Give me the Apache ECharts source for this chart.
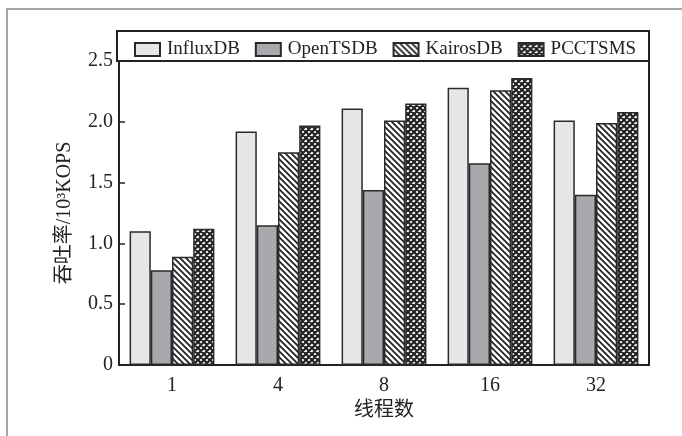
<!DOCTYPE html>
<html>
<head>
<meta charset="utf-8">
<script src="https://cdn.jsdelivr.net/npm/echarts@6/dist/echarts.min.js"></script>
<style>
html,body{margin:0;padding:0;background:#fff;}
#c{width:682px;height:436px;}
</style>
</head>
<body>
<div id="c"></div>
<script>
var categories = ['1', '4', '8', '16', '32'];
var seriesNames = ['InfluxDB', 'OpenTSDB', 'KairosDB', 'PCCTSMS'];
var influxDB = [1.10, 1.92, 2.11, 2.28, 2.01];
var openTSDB = [0.78, 1.15, 1.44, 1.66, 1.40];
var kairosDB = [0.89, 1.75, 2.01, 2.26, 1.99];
var pcctsms  = [1.12, 1.97, 2.15, 2.36, 2.08];
var yTicks = [0, 0.5, 1.0, 1.5, 2.0, 2.5];

function stripePattern() {
  var s = 6, c = document.createElement('canvas');
  c.width = s; c.height = s;
  var g = c.getContext('2d');
  g.fillStyle = '#fff'; g.fillRect(0, 0, s, s);
  g.strokeStyle = '#222'; g.lineWidth = 1.8;
  g.beginPath();
  g.moveTo(-1, -1); g.lineTo(s + 1, s + 1);
  g.moveTo(-1, s - 1); g.lineTo(1, s + 1);
  g.moveTo(s - 1, -1); g.lineTo(s + 1, 1);
  g.stroke();
  return c;
}
function crossPattern() {
  var s = 6, c = document.createElement('canvas');
  c.width = s; c.height = s;
  var g = c.getContext('2d');
  g.fillStyle = '#fff'; g.fillRect(0, 0, s, s);
  g.strokeStyle = '#222'; g.lineWidth = 2.2;
  g.beginPath();
  g.moveTo(-1, -1); g.lineTo(s + 1, s + 1);
  g.moveTo(-1, s - 1); g.lineTo(1, s + 1);
  g.moveTo(s - 1, -1); g.lineTo(s + 1, 1);
  g.moveTo(-1, s + 1); g.lineTo(s + 1, -1);
  g.moveTo(-1, 1); g.lineTo(1, -1);
  g.moveTo(s - 1, s + 1); g.lineTo(s + 1, s - 1);
  g.stroke();
  return c;
}

var fills = [
  '#e6e7e8',
  '#a7a9ac',
  {image: stripePattern(), repeat: 'repeat'},
  {image: crossPattern(), repeat: 'repeat'}
];
var values = [influxDB, openTSDB, kairosDB, pcctsms];

var font = '"Liberation Serif", "Times New Roman", "Noto Sans CJK SC", serif';

var series = seriesNames.map(function (n, i) {
  return {
    name: n,
    type: 'bar',
    data: values[i],
    barGap: '0%',
    barCategoryGap: '20%',
    itemStyle: {color: fills[i], borderColor: '#2a2a2a', borderWidth: 1.5},
    emphasis: {disabled: true}
  };
});

var chart = echarts.init(document.getElementById('c'), null, {renderer: 'canvas'});
chart.setOption({
  animation: false,
  backgroundColor: '#fff',
  graphic: [
    {type: 'rect', shape: {x: 7, y: 9, width: 720, height: 460}, style: {fill: 'none', stroke: '#a6a6a6', lineWidth: 2}, silent: true},
    {type: 'rect', shape: {x: 117, y: 31, width: 532, height: 30}, style: {fill: 'none', stroke: '#222', lineWidth: 2}, silent: true}
  ],
  legend: {
    data: seriesNames,
    icon: 'rect',
    left: 129,
    top: 35,
    itemWidth: 25,
    itemHeight: 13,
    itemGap: 15,
    textStyle: {fontFamily: font, fontSize: 19, color: '#222', padding: [0, 0, 0, 2]}
  },
  grid: {left: 119, right: 33, top: 61, bottom: 71, show: true, borderColor: '#222', borderWidth: 2, backgroundColor: 'transparent'},
  xAxis: {
    type: 'category',
    data: categories,
    name: '线程数',
    nameLocation: 'middle',
    nameGap: 36,
    nameTextStyle: {fontFamily: font, fontSize: 20, color: '#222'},
    axisLine: {lineStyle: {color: '#222', width: 2}},
    axisTick: {show: false},
    axisLabel: {fontFamily: font, fontSize: 20, color: '#222', margin: 11}
  },
  yAxis: {
    type: 'value',
    min: yTicks[0],
    max: yTicks[yTicks.length - 1],
    interval: 0.5,
    name: '吞吐率/10³KOPS',
    nameLocation: 'middle',
    nameGap: 44,
    nameTextStyle: {fontFamily: font, fontSize: 20, color: '#222'},
    axisLine: {show: true, lineStyle: {color: '#222', width: 2}},
    axisTick: {show: true, inside: true, length: 6, lineStyle: {color: '#222', width: 1.5}},
    splitLine: {show: false},
    axisLabel: {
      fontFamily: font, fontSize: 20, color: '#222', margin: 6,
      formatter: function (v) { return v === 0 ? '0' : v.toFixed(1); }
    }
  },
  series: series
});
</script>
</body>
</html>
